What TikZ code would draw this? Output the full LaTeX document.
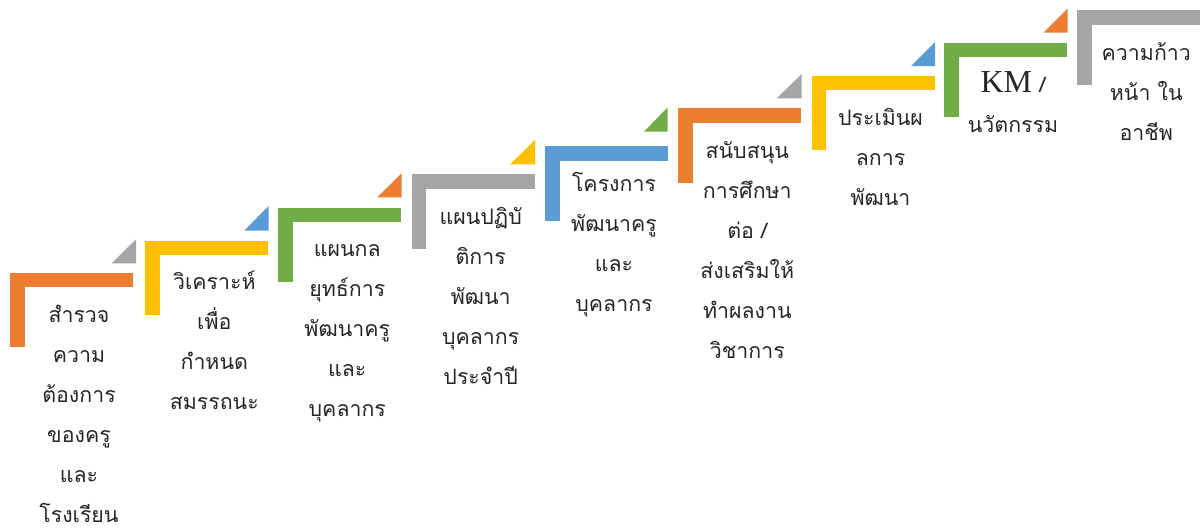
\documentclass[tikz,border=0pt]{standalone}
\usepackage{fontspec}
\newfontfamily\thaifont[Script=Thai]{Loma}
\newfontfamily\kmfont{Liberation Serif}
\definecolor{orng}{HTML}{ED7D31}
\definecolor{gold}{HTML}{FFC000}
\definecolor{grn}{HTML}{70AD47}
\definecolor{gry}{HTML}{A5A5A5}
\definecolor{blu}{HTML}{5B9BD5}
\begin{document}
\begin{tikzpicture}[x=0.75pt,y=-0.75pt,
    txt/.style={anchor=base,align=center,inner sep=0pt,text=black!85,
        font=\thaifont\fontsize{16}{30}\selectfont}]
    \useasboundingbox (0,0) rectangle (1200,532);
    % step 1 (text nodes sit on the baseline of their last line)
    \fill[orng] (10,272.7) rectangle ++(123,14.5);
    \fill[orng] (10,272.7) rectangle ++(14.5,74.5);
    \fill[gry] (136,239.3) -- (136,263.3) -- (111.7,263.3) -- cycle;
    \node[txt] (s1) at (79,522.5) {สำรวจ\\ความ\\ต้องการ\\ของครู\\และ\\โรงเรียน};
    % step 2
    \fill[gold] (145.3,240.7) rectangle ++(123,14.5);
    \fill[gold] (145.3,240.7) rectangle ++(14.5,74.5);
    \fill[blu] (268.5,206) -- (268.5,230.7) -- (244.3,230.7) -- cycle;
    \node[txt] (s2) at (214.3,409.7) {วิเคราะห์\\เพื่อ\\กำหนด\\สมรรถนะ};
    % step 3
    \fill[grn] (278.3,207.7) rectangle ++(123,14.5);
    \fill[grn] (278.3,207.7) rectangle ++(14.5,74.5);
    \fill[orng] (401.7,173.3) -- (401.7,197.3) -- (377.3,197.3) -- cycle;
    \node[txt] (s3) at (347.3,416.9) {แผนกล\\ยุทธ์การ\\พัฒนาครู\\และ\\บุคลากร};
    % step 4
    \fill[gry] (411.7,174) rectangle ++(123,14.5);
    \fill[gry] (411.7,174) rectangle ++(14.5,74.5);
    \fill[gold] (535,140) -- (535,164.3) -- (510,164.3) -- cycle;
    \node[txt] (s4) at (480.7,384.1) {แผนปฏิบั\\ติการ\\พัฒนา\\บุคลากร\\ประจำปี};
    % step 5
    \fill[blu] (545,146) rectangle ++(123,14.5);
    \fill[blu] (545,146) rectangle ++(14.5,74.5);
    \fill[grn] (667.7,107.3) -- (667.7,131.7) -- (644,131.7) -- cycle;
    \node[txt] (s5) at (614,311.3) {โครงการ\\พัฒนาครู\\และ\\บุคลากร};
    % step 6
    \fill[orng] (678.3,108.3) rectangle ++(123,14.5);
    \fill[orng] (678.3,108.3) rectangle ++(14.5,74.5);
    \fill[gry] (801.7,74) -- (801.7,98.3) -- (776.7,98.3) -- cycle;
    \node[txt] (s6) at (747.3,358.5) {สนับสนุน\\การศึกษา\\ต่อ /\\ส่งเสริมให้\\ทำผลงาน\\วิชาการ};
    % step 7
    \fill[gold] (811.5,75.7) rectangle ++(123,14.5);
    \fill[gold] (811.5,75.7) rectangle ++(14.5,74.5);
    \fill[blu] (935,42) -- (935,66) -- (911,66) -- cycle;
    \node[txt] (s7) at (880.5,205.7) {ประเมินผ\\ลการ\\พัฒนา};
    % step 8
    \fill[grn] (944,42.7) rectangle ++(123,14.5);
    \fill[grn] (944,42.7) rectangle ++(14.5,74.5);
    \fill[orng] (1067.7,8.3) -- (1067.7,32.7) -- (1043.3,32.7) -- cycle;
    \node[txt] (s8) at (1013,132.9) {{\kmfont\fontsize{24}{30}\selectfont KM} /\\นวัตกรรม};
    % step 9
    \fill[gry] (1077.3,10) rectangle ++(123,14.5);
    \fill[gry] (1077.3,10) rectangle ++(14.5,74.5);
    \node[txt] (s9) at (1146.3,140.1) {ความก้าว\\หน้า ใน\\อาชีพ};
\end{tikzpicture}
\end{document}
